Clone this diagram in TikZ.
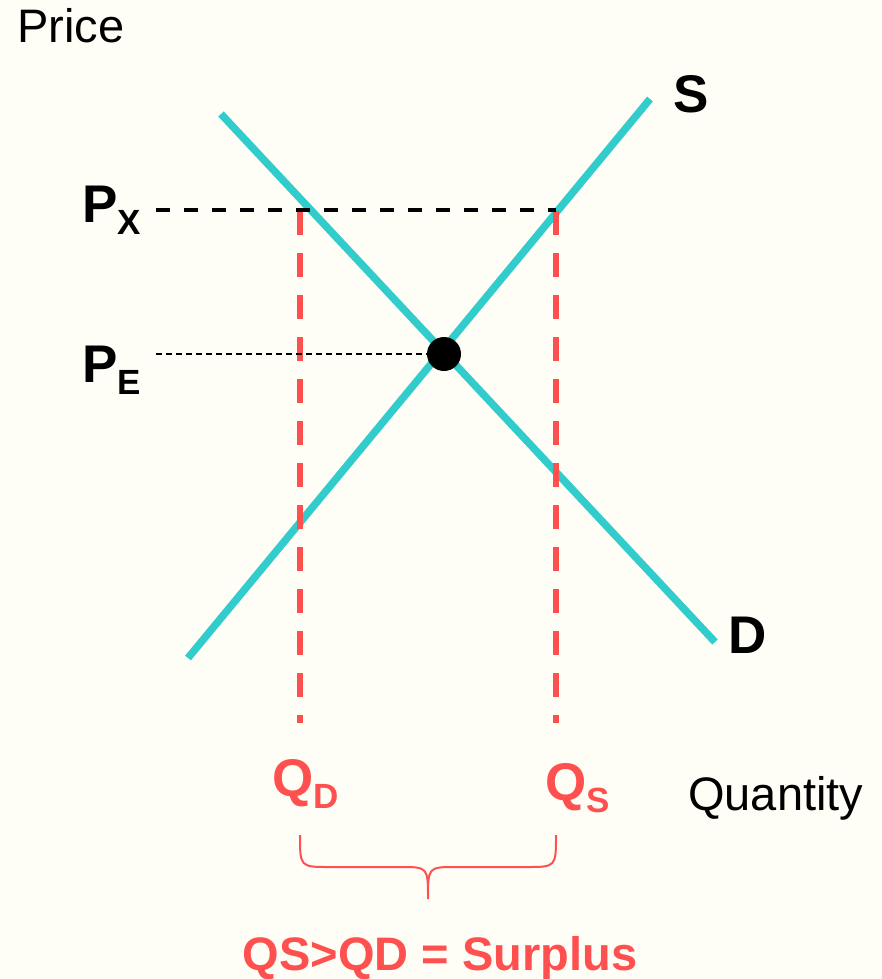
\documentclass[tikz,border=0pt]{standalone}
\usepackage{fontspec}
\setmainfont{Liberation Sans}
\usepackage{xcolor}
\definecolor{bgcol}{RGB}{255,254,246}
\definecolor{curvecol}{RGB}{51,204,204}
\definecolor{surpluscol}{RGB}{255,80,80}
\tikzset{
  curve/.style={curvecol,line width=7.5pt},
  pricedash/.style={black,line width=4pt,dash pattern=on 14pt off 14pt},
  eqdash/.style={black,line width=2pt,dash pattern=on 6pt off 4pt},
  qtydash/.style={surpluscol,line width=6pt,dash pattern=on 24pt off 18pt},
  axislabel/.style={font=\fontsize{47}{56}\selectfont,inner sep=0pt},
  biglabel/.style={font=\fontsize{53}{60}\selectfont\bfseries,inner sep=0pt},
  surplustext/.style={font=\fontsize{47}{56}\selectfont\bfseries,inner sep=0pt,surpluscol},
  eqdot/.style={circle,fill=black,minimum size=34pt,inner sep=0pt},
  bracestyle/.style={surpluscol,line width=2pt}
}
\newcommand{\sublbl}[2]{#1\raisebox{-12pt}{\fontsize{35}{40}\selectfont #2}}

\begin{document}
\begin{tikzpicture}[x=1pt,y=-1pt]
  \fill[bgcol] (0,0) rectangle (882,979);
  \useasboundingbox (0,0) rectangle (882,979);

  % axis labels
  \node[axislabel,anchor=base west] (price) at (17,43) {Price};
  \node[axislabel,anchor=base west] (qty) at (688,810) {Quantity};

  % demand and supply
  \coordinate (d0) at (221,114);
  \coordinate (d1) at (715,642);
  \coordinate (s0) at (188,658);
  \coordinate (s1) at (650,99);
  \draw[curve] (d0) -- (d1);
  \draw[curve] (s0) -- (s1);
  \node[biglabel,anchor=base west] (slbl) at (673,113) {S};
  \node[biglabel,anchor=base west] (dlbl) at (728,653) {D};

  % quantity drops
  \coordinate (qdtop) at (300,211);
  \coordinate (qdbot) at (300,723);
  \coordinate (qstop) at (556,211);
  \coordinate (qsbot) at (556,723);
  \draw[qtydash] (qdtop) -- (qdbot);
  \draw[qtydash] (qstop) -- (qsbot);

  % price lines
  \node[eqdot] (eq) at (444,354) {};
  \coordinate (pxstart) at (156,210);
  \coordinate (pxend) at (556,210);
  \coordinate (pestart) at (156,354);
  \draw[pricedash] (pxstart) -- (pxend);
  \draw[eqdash] (pestart) -- (eq);
  \node[biglabel,anchor=base west] (px) at (82,222) {\sublbl{P}{X}};
  \node[biglabel,anchor=base west] (pe) at (82,382) {\sublbl{P}{E}};

  % surplus
  \node[biglabel,surpluscol,anchor=base west] (qd) at (272,796) {\sublbl{Q}{D}};
  \node[biglabel,surpluscol,anchor=base west] (qs) at (545,800) {\sublbl{Q}{S}};
  \coordinate (braceL) at (300,835);
  \coordinate (braceR) at (556,835);
  \coordinate (bracetip) at (428,899);
  \draw[bracestyle] (braceL) .. controls (300,867) .. (330,867)
    -- (400,867) .. controls (428,867) .. (bracetip)
    .. controls (428,867) .. (456,867) -- (526,867)
    .. controls (556,867) .. (braceR);
  \node[surplustext,anchor=base] (surplus) at (440,970) {QS>QD = Surplus};
\end{tikzpicture}
\end{document}
